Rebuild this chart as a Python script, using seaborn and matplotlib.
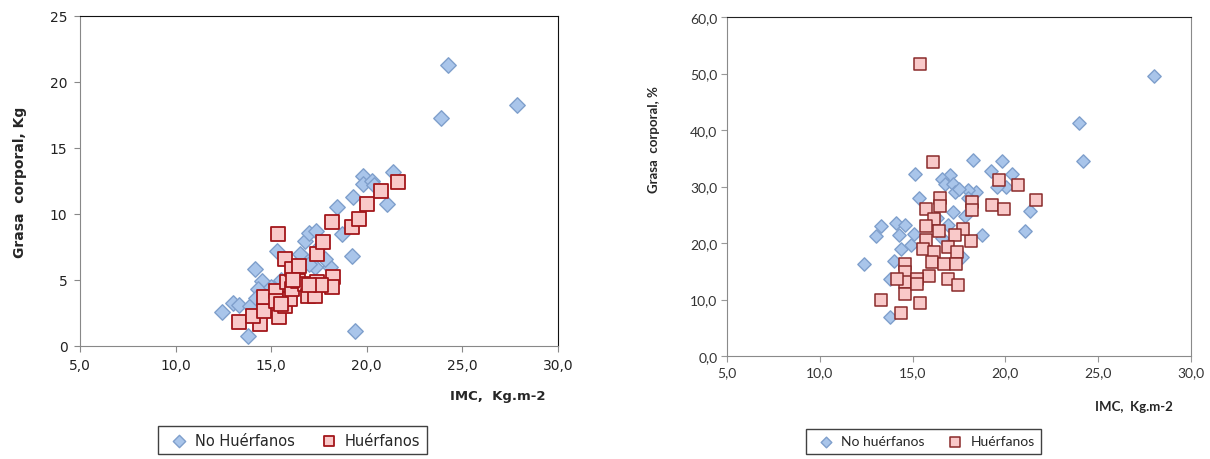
import numpy as np
import pandas as pd
import seaborn as sns
import matplotlib
matplotlib.use("Agg")
import matplotlib.pyplot as plt
from matplotlib.ticker import FuncFormatter, MultipleLocator

# ---- left chart: body fat (Kg) vs IMC ----
kg_no_imc = [12.44, 13.02, 13.33, 13.80, 13.89, 14.15, 14.50, 14.33, 14.23, 15.32,
             16.60, 16.77, 16.99, 17.34, 17.29, 18.08, 17.81, 18.69, 19.24, 19.38,
             18.43, 19.30, 19.82, 19.78, 20.25, 21.04, 21.35, 24.23, 23.88, 27.87,
             15.00, 15.50, 16.20, 17.00, 16.50, 17.50, 15.80, 20.40]
kg_no_val = [2.55, 3.26, 3.10, 0.78, 3.05, 5.83, 4.95, 4.30, 3.60, 7.22,
             6.84, 7.98, 8.56, 8.73, 5.96, 5.96, 6.59, 8.48, 6.84, 1.16,
             10.50, 11.26, 12.90, 12.27, 12.52, 10.76, 13.16, 21.30, 17.27, 18.26,
             4.50, 5.00, 5.30, 6.20, 7.00, 7.50, 3.80, 12.20]

kg_hu_imc = [13.32, 14.41, 14.07, 14.60, 14.62, 15.37, 15.42, 15.25, 15.25, 15.72,
             15.81, 15.72, 15.98, 16.07, 16.07, 16.47, 16.42, 16.77, 16.94, 17.29,
             17.38, 17.38, 17.69, 18.16, 18.25, 18.16, 17.60, 19.24, 19.61, 20.03,
             20.73, 21.65, 16.15, 15.50, 17.00]
kg_hu_val = [1.84, 1.67, 2.30, 2.68, 3.69, 8.48, 2.17, 4.19, 3.43, 6.59,
             4.82, 3.05, 3.56, 5.83, 4.32, 6.08, 4.95, 4.70, 3.81, 3.81,
             4.82, 6.97, 7.85, 9.37, 5.20, 4.44, 4.60, 8.99, 9.62, 10.76,
             11.77, 12.40, 5.00, 3.20, 4.60]

# ---- right chart: body fat (%) vs IMC ----
pc_no_imc = [28.02, 23.97, 24.20, 12.40, 13.03, 13.28, 13.76, 13.76, 14.00, 14.08,
             14.29, 14.40, 14.60, 15.13, 15.34, 18.27, 19.84, 19.21, 20.37, 20.05,
             19.53, 21.31, 21.04, 18.73, 18.44, 17.96, 17.00, 16.60, 16.76, 17.20,
             17.30, 17.50, 17.20, 16.90, 17.64, 17.80, 16.60, 14.90, 15.10, 18.00,
             16.30]
pc_no_val = [49.6, 41.2, 34.5, 16.2, 21.2, 23.0, 6.9, 13.7, 16.9, 23.6,
             21.4, 18.9, 23.1, 32.3, 28.0, 34.7, 34.5, 32.7, 32.3, 30.0,
             29.9, 25.7, 22.2, 21.4, 29.0, 29.4, 32.0, 31.4, 30.5, 30.5,
             29.0, 29.6, 25.5, 23.1, 17.5, 24.8, 20.9, 19.6, 21.6, 28.0,
             24.4]

pc_hu_imc = [15.38, 16.11, 19.63, 20.68, 21.67, 19.28, 19.95, 18.20, 18.20, 18.17,
             16.49, 16.49, 15.71, 16.13, 16.43, 15.71, 15.71, 15.55, 17.70, 17.26,
             16.90, 17.39, 16.17, 16.07, 16.70, 17.33, 15.86, 16.90, 17.43, 14.60,
             14.60, 14.60, 14.18, 14.60, 15.23, 15.23, 13.28, 15.38, 14.39]
pc_hu_val = [51.7, 34.3, 31.1, 30.2, 27.6, 26.8, 26.1, 27.3, 25.8, 20.3,
             28.0, 26.5, 26.1, 24.2, 22.1, 23.0, 20.6, 19.0, 22.5, 21.5,
             19.3, 18.4, 18.4, 16.6, 16.2, 16.3, 14.2, 13.6, 12.5, 16.3,
             14.9, 13.1, 13.7, 10.9, 13.7, 12.8, 9.85, 9.4, 7.6]

left_legend = ["No Huérfanos", "Huérfanos"]
right_legend = ["No huérfanos", "Huérfanos"]

blue_face, blue_edge = "#a9c5ea", "#7f9fcc"
red_face, red_edge = "#f9c9c9", "#a3161a"

sns.set_style("ticks")
plt.rcParams['font.family'] = ['DejaVu Sans']

fig = plt.figure(figsize=(12.1, 4.6), dpi=100)
ax1 = fig.add_axes([80 / 1210, 1 - 347 / 460, 478 / 1210, 330 / 460])
ax2 = fig.add_axes([727 / 1210, 1 - 357 / 460, 464 / 1210, 339 / 460])

df1a = pd.DataFrame({'imc': kg_no_imc, 'val': kg_no_val})
df1b = pd.DataFrame({'imc': kg_hu_imc, 'val': kg_hu_val})
df2a = pd.DataFrame({'imc': pc_no_imc, 'val': pc_no_val})
df2b = pd.DataFrame({'imc': pc_hu_imc, 'val': pc_hu_val})

sns.scatterplot(data=df1a, x='imc', y='val', ax=ax1, marker='D', s=62,
                color=blue_face, edgecolor=blue_edge, linewidth=1.0, label=left_legend[0])
sns.scatterplot(data=df1b, x='imc', y='val', ax=ax1, marker='s', s=95,
                color=red_face, edgecolor=red_edge, linewidth=1.3, label=left_legend[1])
sns.scatterplot(data=df2a, x='imc', y='val', ax=ax2, marker='D', s=46,
                color=blue_face, edgecolor=blue_edge, linewidth=1.0, label=right_legend[0])
sns.scatterplot(data=df2b, x='imc', y='val', ax=ax2, marker='s', s=70,
                color=red_face, edgecolor="#8a2a2a", linewidth=1.1, label=right_legend[1])

comma1 = FuncFormatter(lambda v, p: f"{v:.1f}".replace('.', ','))
ax1.set_xlim(5, 30)
ax1.set_ylim(0, 25)
ax1.xaxis.set_major_locator(MultipleLocator(5))
ax1.yaxis.set_major_locator(MultipleLocator(5))
ax1.xaxis.set_major_formatter(comma1)
ax1.yaxis.set_major_formatter(FuncFormatter(lambda v, p: f"{v:.0f}"))
ax1.tick_params(labelsize=10, length=4, color='#888888', labelcolor='#222222', pad=5)
for s in ['left', 'bottom']:
    ax1.spines[s].set_color('#888888')
for s in ['top', 'right']:
    ax1.spines[s].set_color('#111111')
ax1.set_xlabel("")
ax1.set_ylabel("Grasa  corporal, Kg", fontsize=10, fontweight='bold')
ax1.yaxis.set_label_coords(-0.11, 0.5)
fig.text(498 / 1210, 1 - 397 / 460, "IMC,  Kg.m-2", fontsize=9.5, fontweight='bold',
         ha='center', va='center')

ax2.set_xlim(5, 30)
ax2.set_ylim(0, 60)
ax2.xaxis.set_major_locator(MultipleLocator(5))
ax2.yaxis.set_major_locator(MultipleLocator(10))
ax2.xaxis.set_major_formatter(comma1)
ax2.yaxis.set_major_formatter(comma1)
ax2.tick_params(length=4, color='#999999', labelcolor='#333333', pad=3)
for lab in ax2.get_xticklabels() + ax2.get_yticklabels():
    lab.set_family(['Lato', 'DejaVu Sans'])
    lab.set_fontsize(10)
for s in ax2.spines.values():
    s.set_color('#8a8a8a')
ax2.spines['top'].set_color('#222222')
ax2.set_xlabel("")
ax2.set_ylabel("Grasa  corporal, %", fontsize=9.5, fontweight='bold',
               family=['Lato', 'DejaVu Sans'])
ax2.yaxis.set_label_coords(-0.145, 0.64)
fig.text(1134 / 1210, 1 - 407 / 460, "IMC,  Kg.m-2", fontsize=9.5, fontweight='bold',
         ha='center', va='center', family=['Lato', 'DejaVu Sans'])

h1, l1 = ax1.get_legend_handles_labels()
ax1.get_legend().remove()
leg1 = fig.legend(h1, l1, loc='upper left', bbox_to_anchor=(158 / 1210, 1 - 427 / 460),
                  ncol=2, frameon=True, fancybox=False, edgecolor='#111111',
                  fontsize=10.5, handletextpad=0.1, columnspacing=1.3, borderpad=0.45,
                  borderaxespad=0, markerscale=0.8)
leg1.get_frame().set_linewidth(1.0)

h2, l2 = ax2.get_legend_handles_labels()
ax2.get_legend().remove()
leg2 = fig.legend(h2, l2, loc='upper left', bbox_to_anchor=(806 / 1210, 1 - 430 / 460),
                  ncol=2, frameon=True, fancybox=False, edgecolor='#111111',
                  prop={'family': ['Lato', 'DejaVu Sans'], 'size': 10},
                  handletextpad=0.1, columnspacing=1.2, borderpad=0.45,
                  borderaxespad=0, markerscale=0.8)
leg2.get_frame().set_linewidth(1.0)

plt.savefig("out.png", dpi=100)
